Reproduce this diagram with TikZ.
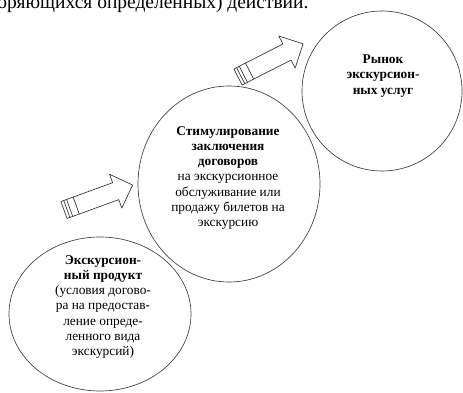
\documentclass[tikz,border=0pt]{standalone}
\usepackage{fontspec}
\setmainfont{Liberation Serif}
\usetikzlibrary{shapes.geometric}
\begin{document}
\begin{tikzpicture}[x=0.75pt,y=-0.75pt,line join=round,line cap=round,
    krug/.style={ellipse,draw=black!75,line width=0.5pt,inner sep=0pt},
    tekst/.style={align=center,font=\fontsize{10}{11.4}\selectfont},
    strelka/.pic={
        \draw[black!80,line width=0.5pt,fill=white] (0,-9)--(55,-9)--(55,-18)--(73,0)--(55,18)--(55,9)--(0,9)--cycle;
        \draw[black!80,line width=0.5pt] (3,-9)--(3,9) (6,-9)--(6,9) (13,-9)--(13,9);
    }]
    \useasboundingbox (0,0) rectangle (463,392);
    \clip (0,0) rectangle (463,392);
    \node[anchor=base west,inner sep=0pt,font=\fontsize{14.6}{17}\selectfont] (stroka) at (-3,9) {оряющихся определенных) действий.};
    % circles
    \node[krug,minimum width=136.5pt,minimum height=115.5pt] (produkt) at (100,314) {};
    \node[krug,minimum width=136.5pt,minimum height=147pt] (stimul) at (229,184) {};
    \node[krug,minimum width=120pt,minimum height=120pt] (rynok) at (382,91) {};
    \node[tekst] (produkt-t) at (103,307) {\textbf{Экскурсион-}\\\textbf{ный продукт}\\(условия догово-\\ра на предостав-\\ление опреде-\\ленного вида\\экскурсий)};
    \node[tekst] (stimul-t) at (228,178) {\textbf{Стимулирование}\\\textbf{заключения}\\\textbf{договоров}\\на экскурсионное\\обслуживание или\\продажу билетов на\\экскурсию};
    \node[tekst] (rynok-t) at (383,76) {\textbf{Рынок}\\\textbf{экскурсион-}\\\textbf{ных услуг}};
    % block arrows
    \foreach \x/\y/\a in {64/210/20,238/77/27}
        \pic[rotate=\a] at (\x,\y) {strelka};
\end{tikzpicture}
\end{document}
